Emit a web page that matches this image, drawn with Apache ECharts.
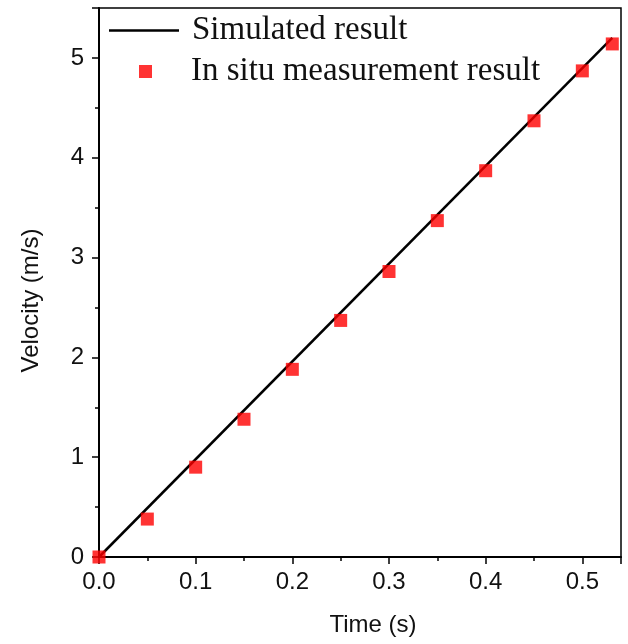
<!DOCTYPE html>
<html>
<head>
<meta charset="utf-8">
<script src="https://cdn.jsdelivr.net/npm/echarts@6/dist/echarts.min.js"></script>
<style>
  html, body { margin: 0; padding: 0; background: #fff; }
  #chart { width: 628px; height: 644px; }
</style>
</head>
<body>
<div id="chart"></div>
<script>
  // measured points (time s, velocity m/s)
  var measTime = [0, 0.05, 0.1, 0.15, 0.2, 0.25, 0.3, 0.35, 0.4, 0.45, 0.5, 0.531];
  var measVel  = [0, 0.38, 0.90, 1.38, 1.88, 2.37, 2.86, 3.37, 3.87, 4.37, 4.87, 5.14];
  // simulated line end points
  var simTime = [0, 0.531];
  var simVel  = [0, 5.20];

  var simData = simTime.map(function (t, i) { return [t, simVel[i]]; });
  var measData = measTime.map(function (t, i) { return [t, measVel[i]]; });

  var chart = echarts.init(document.getElementById('chart'));
  var axisFont = { fontFamily: 'Liberation Sans', fontSize: 24, color: '#111' };

  chart.setOption({
    animation: false,
    grid: { left: 99, right: 7, top: 8, bottom: 87, show: true, borderColor: '#000', borderWidth: 1.5 },
    legend: [{
      data: [{ name: 'Simulated result', icon: 'rect' }],
      left: 104, top: 9,
      itemWidth: 70, itemHeight: 2.5,
      textStyle: { fontFamily: 'Liberation Serif', fontSize: 33, color: '#111', padding: [0, 0, 0, 8] }
    }, {
      data: ['In situ measurement result'],
      left: 134, top: 50,
      itemWidth: 13, itemHeight: 13,
      textStyle: { fontFamily: 'Liberation Serif', fontSize: 33, color: '#111', padding: [0, 0, 0, 34] }
    }],
    xAxis: {
      type: 'value', min: 0, max: 0.54, interval: 0.1,
      name: 'Time (s)', nameLocation: 'middle', nameGap: 56,
      nameTextStyle: Object.assign({ padding: [0, 0, 0, 26] }, axisFont),
      axisLine: { lineStyle: { color: '#000', width: 2 } },
      axisTick: { inside: false, length: 7, lineStyle: { width: 1.5, color: '#000' } },
      minorTick: { show: true, splitNumber: 2, length: 4, lineStyle: { width: 1.5, color: '#000' } },
      axisLabel: Object.assign({ margin: 13, showMaxLabel: false, formatter: function (v) { return v.toFixed(1); } }, axisFont),
      splitLine: { show: false }
    },
    yAxis: {
      type: 'value', min: 0, max: 5.5, interval: 1,
      name: 'Velocity (m/s)', nameLocation: 'middle', nameGap: 56,
      nameTextStyle: Object.assign({ padding: [0, 36, 0, 0] }, axisFont),
      axisLine: { lineStyle: { color: '#000', width: 2 } },
      axisTick: { inside: false, length: 7, lineStyle: { width: 1.5, color: '#000' } },
      minorTick: { show: true, splitNumber: 2, length: 4, lineStyle: { width: 1.5, color: '#000' } },
      axisLabel: Object.assign({ margin: 15, showMaxLabel: false }, axisFont),
      splitLine: { show: false }
    },
    series: [{
      name: 'Simulated result',
      type: 'line',
      data: simData,
      symbol: 'none',
      lineStyle: { color: '#000', width: 2.5 },
      itemStyle: { color: '#000' },
      z: 3
    }, {
      name: 'In situ measurement result',
      type: 'scatter',
      data: measData,
      symbol: 'rect',
      symbolSize: 13,
      itemStyle: { color: '#ff0000' },
      z: 4
    }]
  });
</script>
</body>
</html>
